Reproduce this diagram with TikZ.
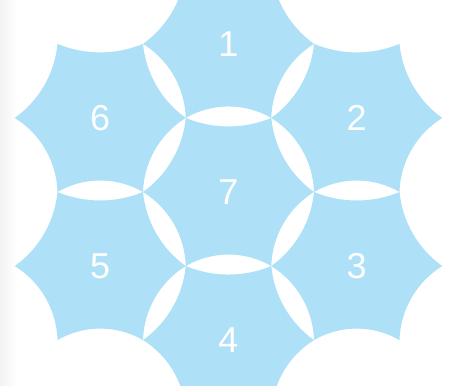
\documentclass[tikz,border=0pt]{standalone}
\usepackage{fontspec}
\setmainfont{Liberation Sans}
\definecolor{cellblue}{RGB}{174,225,248}
\tikzset{
  cellfill/.style={fill=cellblue},
  celllabel/.style={text=white,font=\fontsize{36}{36}\selectfont,inner sep=0pt}
}
% one cell: hexagon (circumradius 85.5) with concave circular sides
\newcommand\hexcell[4]{% #1 x, #2 y, #3 name, #4 label
  \fill[cellfill] (#1+85.5,#2)
    arc[start angle=234.42, end angle=185.58, radius=103.41pt]
    arc[start angle=292.49, end angle=247.51, radius=111.75pt]
    arc[start angle=354.42, end angle=305.58, radius=103.41pt]
    arc[start angle=58.23,  end angle=1.77,   radius=90.38pt]
    arc[start angle=120.11, end angle=59.89,  radius=85.21pt]
    arc[start angle=178.23, end angle=121.77, radius=90.38pt]
    -- cycle;
  \node[celllabel] (#3) at (#1,#2) {#4};
}
\begin{document}
\begin{tikzpicture}[x=1pt,y=1pt]
  \useasboundingbox (0,0) rectangle (459,386);
  \clip (0,0) rectangle (459,386);
  \fill[white] (0,0) rectangle (459,386);
  \shade[left color=black!5,right color=white] (0,0) rectangle (16,386);
  \hexcell{228.5}{342.1}{c1}{1}
  \hexcell{356.75}{268.05}{c2}{2}
  \hexcell{356.75}{119.95}{c3}{3}
  \hexcell{228.5}{45.9}{c4}{4}
  \hexcell{100.25}{119.95}{c5}{5}
  \hexcell{100.25}{268.05}{c6}{6}
  \hexcell{228.5}{194}{c7}{7}
\end{tikzpicture}
\end{document}
